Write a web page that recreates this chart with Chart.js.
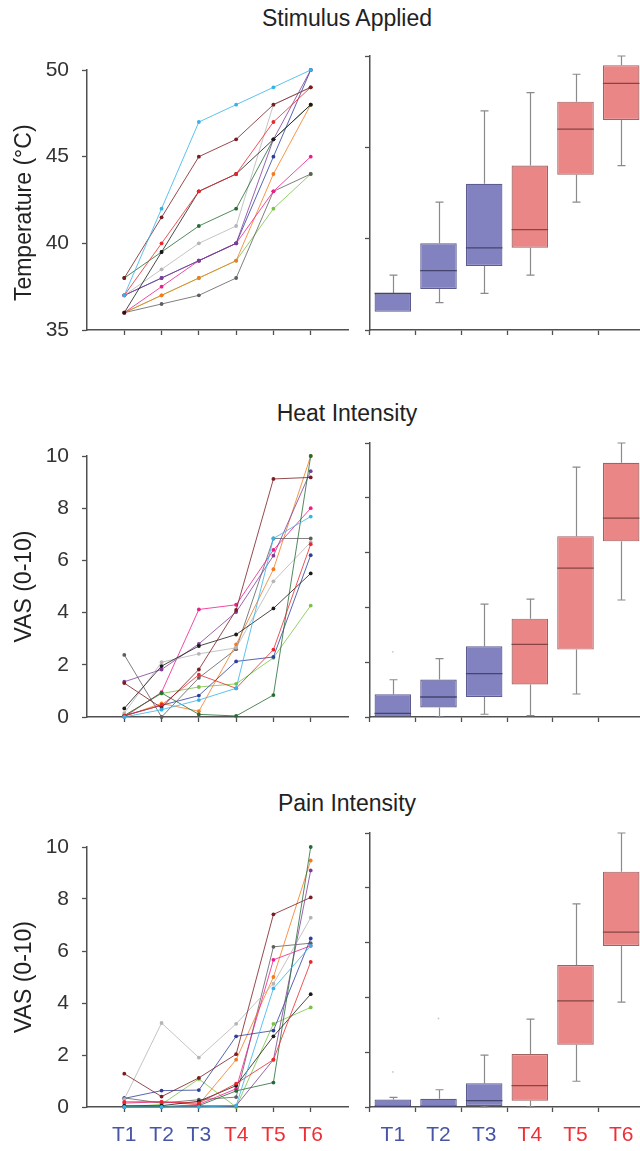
<!DOCTYPE html>
<html>
<head>
<meta charset="utf-8">
<script src="https://cdn.jsdelivr.net/npm/chart.js@4.4.1/dist/chart.umd.min.js"></script>
<style>
  html, body { margin: 0; padding: 0; width: 640px; height: 1151px; overflow: hidden; background: #fff; }
  canvas { position: absolute; }
  .row-title {
    position: absolute; left: 347px; transform: translateX(-50%);
    font: 23px "Liberation Sans", Arial, sans-serif; line-height: 23px;
    color: #222; white-space: nowrap;
  }
</style>
</head>
<body>
<div class="row-title" style="top:7px">Stimulus Applied</div>
<div class="row-title" style="top:402px">Heat Intensity</div>
<div class="row-title" style="top:792px">Pain Intensity</div>

<script>
const timepoints = ["T1", "T2", "T3", "T4", "T5", "T6"];
const tickColors = ["#4655a5", "#4655a5", "#4655a5", "#ed2f36", "#ed2f36", "#ed2f36"];

// one colour per subject
const subjectColors = [
  "#35b3e8", "#7a1c22", "#e8282e", "#1a1a1a", "#256b35", "#b5b5b5",
  "#7e3d97", "#2d3e9c", "#ec1e8a", "#f47a20", "#5e5e5e", "#78c442",
];

// Stimulus applied (deg C), one row per subject, T1..T6
const tempLines = [
  [37, 42, 47, 48, 49, 50],
  [38, 41.5, 45, 46, 48, 49],
  [37, 40, 43, 44, 47, 49],
  [36, 39.5, 43, 44, 46, 48],
  [38, 39.5, 41, 42, 46, 48],
  [37, 38.5, 40, 41, 48, 49],
  [37, 38, 39, 40, 46, 50],
  [37, 38, 39, 40, 45, 50],
  [36, 37.5, 39, 40, 43, 45],
  [36, 37, 38, 39, 44, 48],
  [36, 36.5, 37, 38, 43, 44],
  [36, 37, 38, 39, 42, 44],
];

// Heat intensity (VAS)
const heatLines = [
  [0, 0.28, 0.65, 1.1, 6.84, 7.68],
  [1.3, 0.35, 1.82, 4.1, 9.12, 9.18],
  [0.05, 0.45, 1.62, 1.1, 2.58, 6.62],
  [0.33, 1.95, 2.72, 3.16, 4.16, 5.5],
  [0.05, 0.92, 0.1, 0.04, 0.84, 10],
  [0.15, 2.1, 2.42, 2.65, 5.2, 6.7],
  [1.35, 1.82, 2.8, 4.02, 6.18, 9.42],
  [0.05, 0.45, 0.82, 2.13, 2.3, 6.2],
  [0, 0.95, 4.12, 4.3, 6.4, 8.0],
  [0.02, 0.52, 0.22, 2.78, 5.66, 10],
  [2.38, 0, 1.5, 2.6, 6.84, 6.84],
  [0.05, 0.9, 1.15, 1.27, 2.27, 4.27],
];

// Pain intensity (VAS)
const painLines = [
  [0, 0, 0, 0.05, 4.56, 6.2],
  [1.28, 0.4, 1.12, 2.03, 7.41, 8.06],
  [0.2, 0.2, 0.15, 0.9, 1.82, 5.58],
  [0.05, 0.05, 0.22, 0.82, 2.72, 4.34],
  [0.02, 0.02, 0.05, 0.62, 0.94, 10],
  [0.3, 3.23, 1.9, 3.2, 4.74, 7.28],
  [0, 0, 0.05, 0.05, 1.82, 9.1],
  [0.33, 0.63, 0.65, 2.72, 2.94, 6.48],
  [0.15, 0.2, 0.1, 0.7, 5.66, 6.2],
  [0, 0, 0.1, 1.82, 5.0, 9.48],
  [0.35, 0.15, 0.28, 0.38, 6.16, 6.3],
  [0, 0.1, 1.08, 0, 3.2, 3.83],
];

// box plot summaries
const tempMin = [36, 36.5, 37, 38, 42, 44];
const tempQ1 = [36, 37.25, 38.5, 39.5, 43.5, 46.5];
const tempMedian = [37, 38.25, 39.5, 40.5, 46, 48.5];
const tempQ3 = [37, 39.75, 43, 44, 47.5, 49.5];
const tempMax = [38, 42, 47, 48, 49, 50];
const tempOutliers = [null, null, null, null, null, null];

const heatMin = [0, 0, 0.1, 0.05, 0.84, 4.27];
const heatQ1 = [0, 0.35, 0.73, 1.19, 2.46, 6.41];
const heatMedian = [0.13, 0.73, 1.58, 2.65, 5.43, 7.26];
const heatQ3 = [0.83, 1.37, 2.58, 3.59, 6.6, 9.28];
const heatMax = [1.36, 2.13, 4.12, 4.3, 9.12, 10];
const heatOutliers = [2.38, null, null, null, null, null];

const painMin = [0, 0, 0, 0, 0.94, 3.83];
const painQ1 = [0, 0, 0.04, 0.23, 2.27, 5.88];
const painMedian = [0.02, 0.02, 0.23, 0.78, 3.87, 6.38];
const painQ3 = [0.27, 0.3, 0.87, 1.93, 5.18, 8.59];
const painMax = [0.35, 0.63, 1.89, 3.21, 7.41, 10];
const painOutliers = [1.28, 3.23, null, null, null, null];

const AXIS = "#505050";
const FONT = '"Liberation Sans", Arial, sans-serif';
Chart.defaults.font.family = FONT;

const boxFill = ["#8282c0", "#8282c0", "#8282c0", "#eb8686", "#eb8686", "#eb8686"];
const boxEdge = ["#5c5c90", "#5c5c90", "#5c5c90", "#a36262", "#a36262", "#a36262"];
const medianEdge = ["#44446c", "#44446c", "#44446c", "#874444", "#874444", "#874444"];

// trailing spaces nudge the rotated label up, as in the original figure
const rows = [
  { lines: tempLines, title: "Temperature (°C)    ", min: 35, max: 50, step: 5,
    box: { min: tempMin, q1: tempQ1, median: tempMedian, q3: tempQ3, max: tempMax, out: tempOutliers },
    leftTop: 70, rightTop: 56, bottom: 330, labels: false },
  { lines: heatLines, title: "VAS (0-10)", min: 0, max: 10, step: 2,
    box: { min: heatMin, q1: heatQ1, median: heatMedian, q3: heatQ3, max: heatMax, out: heatOutliers },
    leftTop: 456, rightTop: 443, bottom: 717, labels: false },
  { lines: painLines, title: "VAS (0-10)", min: 0, max: 10, step: 2,
    box: { min: painMin, q1: painQ1, median: painMedian, q3: painQ3, max: painMax, out: painOutliers },
    leftTop: 847, rightTop: 833, bottom: 1107, labels: true },
];

const PAD_TOP = 14;
const TICK_SIZE = 21;

const makeCanvas = (left, top, width, height) => {
  const c = document.createElement("canvas");
  c.width = width;
  c.height = height;
  c.style.left = left + "px";
  c.style.top = top + "px";
  c.style.width = width + "px";
  c.style.height = height + "px";
  document.body.appendChild(c);
  return c;
};

const noPad = (ax) => {
  ax.paddingTop = 0;
  ax.paddingBottom = 0;
  ax.paddingLeft = 0;
  ax.paddingRight = 0;
};

const axisGrid = { display: true, drawOnChartArea: false, drawTicks: true, tickLength: 5, tickColor: AXIS, tickWidth: 1.3 };
const axisBorder = { display: true, color: AXIS, width: 1.5 };

const boxWhiskers = {
  id: "boxWhiskers",
  beforeDatasetsDraw(chart, args, opts) {
    const { ctx } = chart;
    const y = chart.scales.y;
    const bars = chart.getDatasetMeta(0).data;
    ctx.save();
    ctx.strokeStyle = "#8a8a8a";
    ctx.lineWidth = 1.2;
    bars.forEach((bar, i) => {
      const x = Math.round(bar.x) + 0.5;
      const ends = [[opts.q3[i], opts.max[i]], [opts.q1[i], opts.min[i]]];
      ends.forEach(([from, to]) => {
        if (from === to) return;
        const y1 = y.getPixelForValue(from);
        const y2 = y.getPixelForValue(to);
        ctx.beginPath();
        ctx.moveTo(x, y1);
        ctx.lineTo(x, y2);
        ctx.moveTo(x - 4, y2);
        ctx.lineTo(x + 4, y2);
        ctx.stroke();
      });
    });
    ctx.restore();
  },
  afterDatasetsDraw(chart, args, opts) {
    const { ctx } = chart;
    const y = chart.scales.y;
    const bars = chart.getDatasetMeta(0).data;
    ctx.save();
    ctx.lineWidth = 1.3;
    bars.forEach((bar, i) => {
      const ym = y.getPixelForValue(opts.median[i]);
      ctx.strokeStyle = medianEdge[i];
      ctx.beginPath();
      ctx.moveTo(bar.x - bar.width / 2, ym);
      ctx.lineTo(bar.x + bar.width / 2, ym);
      ctx.stroke();
      if (opts.out[i] !== null) {
        ctx.fillStyle = "#c8c8c8";
        ctx.beginPath();
        ctx.arc(bar.x, y.getPixelForValue(opts.out[i]), 0.9, 0, Math.PI * 2);
        ctx.fill();
      }
    });
    ctx.restore();
  },
};

const renderLines = (row) => {
  const xh = row.labels ? 45 : 10;
  const top = row.leftTop - PAD_TOP;
  const canvas = makeCanvas(0, top, 368, row.bottom + xh - top);
  new Chart(canvas, {
    type: "line",
    data: {
      datasets: row.lines.map((vals, s) => ({
        data: vals.map((v, i) => ({ x: i, y: v })),
        borderColor: subjectColors[s],
        backgroundColor: subjectColors[s],
        pointBackgroundColor: subjectColors[s],
        borderWidth: 0.8,
        pointRadius: 1.9,
        pointBorderWidth: 0,
        tension: 0,
        clip: false,
      })),
    },
    options: {
      responsive: false,
      animation: false,
      events: [],
      layout: { padding: { top: PAD_TOP, right: 20, bottom: 0, left: 0 } },
      plugins: { legend: { display: false }, tooltip: { enabled: false } },
      scales: {
        x: {
          type: "linear",
          min: -1,
          max: 6,
          afterBuildTicks: (ax) => { ax.ticks = timepoints.map((_, i) => ({ value: i })); },
          afterFit: (ax) => { ax.height = xh; noPad(ax); },
          grid: axisGrid,
          border: axisBorder,
          ticks: {
            autoSkip: false,
            maxRotation: 0,
            padding: 11,
            font: { size: TICK_SIZE },
            color: (c) => tickColors[c.index],
            callback: (v, i) => (row.labels ? timepoints[i] : ""),
          },
        },
        y: {
          min: row.min,
          max: row.max,
          afterFit: (ax) => { ax.width = 87; noPad(ax); },
          grid: axisGrid,
          border: axisBorder,
          ticks: { stepSize: row.step, color: "#333", font: { size: TICK_SIZE }, padding: 13 },
          title: {
            display: true,
            text: row.title,
            color: "#222",
            font: { size: 23 },
            padding: { top: 11, bottom: 0 },
          },
        },
      },
    },
  });
};

const renderBoxes = (row) => {
  const xh = row.labels ? 45 : 10;
  const top = row.rightTop - PAD_TOP;
  const canvas = makeCanvas(340, top, 330, row.bottom + xh - top);
  new Chart(canvas, {
    type: "bar",
    data: {
      labels: timepoints,
      datasets: [{
        data: row.box.q1.map((v, i) => [v, row.box.q3[i]]),
        backgroundColor: boxFill,
        borderColor: boxEdge,
        borderWidth: 1.2,
        borderSkipped: false,
        barPercentage: 1,
        categoryPercentage: 0.8,
      }],
    },
    options: {
      responsive: false,
      animation: false,
      events: [],
      layout: { padding: { top: PAD_TOP, right: 26, bottom: 0, left: 0 } },
      plugins: {
        legend: { display: false },
        tooltip: { enabled: false },
        boxWhiskers: row.box,
      },
      scales: {
        x: {
          afterFit: (ax) => { ax.height = xh; noPad(ax); },
          grid: { ...axisGrid, offset: true },
          border: axisBorder,
          ticks: {
            autoSkip: false,
            maxRotation: 0,
            padding: 11,
            font: { size: TICK_SIZE },
            color: (c) => tickColors[c.index],
            callback: (v, i) => (row.labels ? timepoints[i] : ""),
          },
        },
        y: {
          min: row.min,
          max: row.max,
          afterFit: (ax) => { ax.width = 30; noPad(ax); },
          grid: axisGrid,
          border: axisBorder,
          ticks: { stepSize: row.step, callback: () => "" },
        },
      },
    },
    plugins: [boxWhiskers],
  });
};

rows.forEach((row) => {
  renderLines(row);
  renderBoxes(row);
});
</script>
</body>
</html>
